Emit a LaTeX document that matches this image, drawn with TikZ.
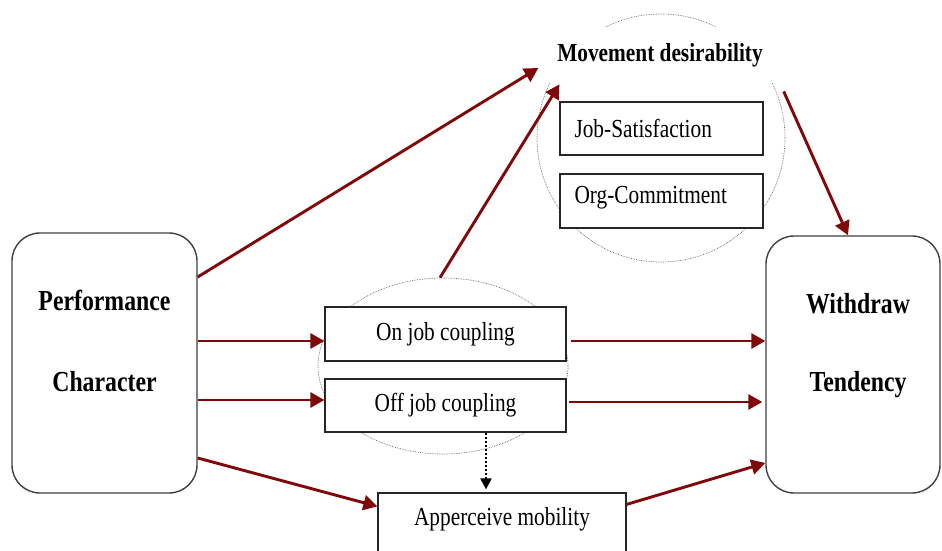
\documentclass[tikz,border=0pt]{standalone}
\usepackage{fontspec}
\setmainfont[FakeStretch=0.82]{Liberation Serif}
\usetikzlibrary{arrows.meta,shapes.geometric}
\definecolor{arrowred}{RGB}{128,8,8}
\tikzset{
  x=1pt, y=-1pt,
  bigbox/.style={draw=black!75, line width=1.4pt, rounded corners=28pt, fill=white,
    minimum width=#1, inner sep=0pt},
  itembox/.style={draw=black!85, line width=1.2pt, fill=white, inner sep=0pt},
  ring/.style={draw=black!60, densely dotted, line width=0.7pt},
  redarrow/.style={draw=arrowred, line width=2.9pt, -{Triangle[length=14pt,width=15pt]}},
  dotarrow/.style={draw=black, line width=2pt, dash pattern=on 2pt off 2pt,
    -{Triangle[length=11pt,width=11pt]}},
  bigtext/.style={font=\fontsize{29}{32}\selectfont\bfseries},
  itemtext/.style={font=\fontsize{26}{30}\selectfont},
}
\begin{document}
\begin{tikzpicture}
\useasboundingbox (0,0) rectangle (942,551);

% dotted grouping rings
\node[ring, circle, minimum size=248pt, inner sep=0pt] (mdc) at (661,138) {};
\node[ring, ellipse, minimum width=250pt, minimum height=176pt, inner sep=0pt] (cpl) at (443,366) {};

% heading of the upper ring
\node[fill=white, minimum width=227pt, minimum height=56pt, inner sep=0pt,
      font=\fontsize{26}{29}\selectfont\bfseries] (md) at (660,55) {Movement desirability};

% main blocks
\node[bigbox=185pt, minimum height=260pt] (pc) at (104.5,363) {};
\node[bigtext] at (104.5,300) {Performance};
\node[bigtext] at (104.5,382) {Character};

\node[bigbox=174pt, minimum height=257pt] (wt) at (853,364.5) {};
\node[bigtext] at (858,304) {Withdraw};
\node[bigtext] at (858,385) {Tendency};

% inner boxes
\node[itembox, minimum width=203pt, minimum height=53pt] (js) at (661.5,128.5) {};
\node[itemtext, anchor=west] at (571,128) {Job-Satisfaction};
\node[itembox, minimum width=203pt, minimum height=54pt] (oc) at (661.5,201) {};
\node[itemtext, anchor=west] at (571,198) {Org-Commitment};

\node[itembox, minimum width=241pt, minimum height=54pt, itemtext] (oj) at (445.5,334) {On job coupling};
\node[itembox, minimum width=241pt, minimum height=53pt, itemtext] (fj) at (445.5,405.5) {Off job coupling};

\node[itembox, minimum width=248pt, minimum height=80pt] (am) at (502,533) {};
\node[itemtext] at (502,519) {Apperceive mobility};

% connectors
\draw[redarrow] ([yshift=86pt]pc.east) -- ([xshift=-8pt,yshift=-13pt]md.west);
\draw[redarrow] ([xshift=-3pt]cpl.north) -- ([yshift=17pt]js.north west);
\draw[redarrow] ([xshift=10pt,yshift=-6pt]mdc.25) -- ([xshift=-5pt]wt.north);

\draw[redarrow] ([yshift=22pt]pc.east) -- ([yshift=-7pt]oj.west);
\draw[redarrow] ([yshift=-37pt]pc.east) -- ([yshift=5.5pt]fj.west);
\draw[redarrow] ([yshift=-95pt]pc.east) -- ([yshift=-14pt]am.north west);

\draw[redarrow] ([xshift=4pt,yshift=-7pt]oj.east) -- ([yshift=23.5pt]wt.west);
\draw[redarrow] ([xshift=2pt,yshift=3.5pt]fj.east) -- ([xshift=-3pt,yshift=-37.5pt]wt.west);
\draw[redarrow] ([yshift=-12pt]am.north east) -- ([yshift=-98.5pt]wt.west);

\draw[dotarrow] ([xshift=40.5pt]fj.south) -- ([xshift=-16pt,yshift=3pt]am.north);
\end{tikzpicture}
\end{document}
